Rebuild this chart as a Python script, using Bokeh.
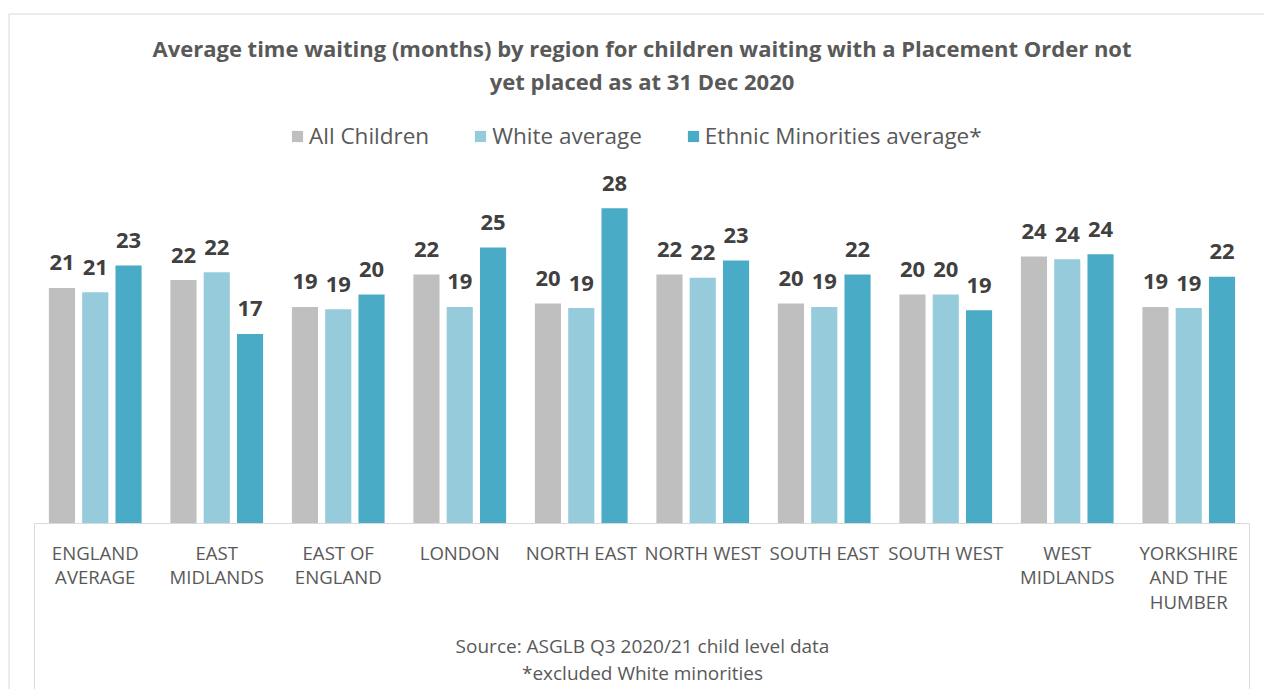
from bokeh.plotting import figure
from bokeh.models import ColumnDataSource, Range1d, Legend, LegendItem, Label
from bokeh.core.properties import value
from bokeh.embed import file_html
from bokeh.resources import INLINE

regions = ["ENGLAND AVERAGE", "EAST MIDLANDS", "EAST OF ENGLAND", "LONDON", "NORTH EAST",
           "NORTH WEST", "SOUTH EAST", "SOUTH WEST", "WEST MIDLANDS", "YORKSHIRE AND THE HUMBER"]
tick_labels = [["ENGLAND", "AVERAGE"], ["EAST", "MIDLANDS"], ["EAST OF", "ENGLAND"], ["LONDON"],
               ["NORTH EAST"], ["NORTH WEST"], ["SOUTH EAST"], ["SOUTH WEST"],
               ["WEST", "MIDLANDS"], ["YORKSHIRE", "AND THE", "HUMBER"]]
all_children = [21.0, 21.7, 19.3, 22.2, 19.6, 22.2, 19.6, 20.4, 23.8, 19.3]
white_avg = [20.6, 22.4, 19.1, 19.3, 19.2, 21.9, 19.3, 20.4, 23.55, 19.2]
ethnic_avg = [23.0, 16.9, 20.4, 24.6, 28.1, 23.45, 22.2, 19.0, 24.0, 22.0]
series_names = ["All Children", "White average", "Ethnic Minorities average*"]
colors = ["#bfbfbf", "#96cbdc", "#4aabc6"]
title_lines = ["Average time waiting (months) by region for children waiting with a Placement Order not",
               "yet placed as at 31 Dec 2020"]
notes = ["Source: ASGLB Q3 2020/21 child level data", "*excluded White minorities"]

FONT = "Open Sans"
TEXT = "#595959"
W, H = 1264, 689
PX_X = 121.5      # pixels per category
PX_Y = 11.22      # pixels per month
X0, Y0 = 34, 523  # canvas position of the category axis origin
n = len(regions)

x_range = Range1d(-X0 / PX_X, (W - X0) / PX_X)
y_range = Range1d(-(H - Y0) / PX_Y, Y0 / PX_Y)

p = figure(width=W, height=H, x_range=x_range, y_range=y_range, output_backend="svg",
           toolbar_location=None, min_border=0)
p.outline_line_color = None
p.xaxis.visible = False
p.yaxis.visible = False
p.xgrid.visible = False
p.ygrid.visible = False

centers = [i + 0.5 for i in range(n)]
off = 0.274
bw = 0.215
renderers = []
for k, (vals, col) in enumerate(zip([all_children, white_avg, ethnic_avg], colors)):
    xs = [c + (k - 1) * off for c in centers]
    src = ColumnDataSource(dict(x=xs, top=vals, lbl=[str(round(v)) for v in vals]))
    r = p.vbar(x="x", top="top", bottom=0, width=bw, source=src, fill_color=col, line_color=None)
    renderers.append(r)
    p.text(x="x", y="top", text="lbl", source=src, text_align="center",
           text_baseline="alphabetic", y_offset=-25, text_font=value(FONT),
           text_font_style="bold", text_font_size="22px", text_color="#404040")

# category axis box and labels
p.segment(x0=[0, 0, n], y0=[0, 0, 0], x1=[n, 0, n], y1=[0, y_range.start, y_range.start],
          line_color="#d9d9d9", line_width=1)
lx, ly, lt, lo = [], [], [], []
for c, lines in zip(centers, tick_labels):
    for j, t in enumerate(lines):
        lx.append(c); ly.append(-28.5 / PX_Y); lt.append(t); lo.append(24.5 * j)
p.text(x=lx, y=ly, text=lt, y_offset=lo, text_align="center", text_baseline="alphabetic",
       text_font=value(FONT), text_font_size="18.6px", text_color=TEXT)

# outer chart border
bx = -(X0 - 8.5) / PX_X
by = (Y0 - 13.5) / PX_Y
p.line(x=[bx, bx, x_range.end], y=[y_range.start, by, by], line_color="#d9d9d9", line_width=1)

legend = Legend(items=[LegendItem(label=s, renderers=[r]) for s, r in zip(series_names, renderers)],
                orientation="horizontal", location=(290, 538), padding=0, margin=0,
                spacing=44, glyph_width=14, glyph_height=14, label_standoff=5,
                label_text_font=FONT, label_text_font_size="22.5px", label_text_color=TEXT,
                border_line_color=None, background_fill_alpha=0)
p.add_layout(legend, "center")

for t, yb in zip(title_lines, [47.5, 80.5]):
    p.add_layout(Label(x=641.5, y=H - yb, x_units="screen", y_units="screen", text=t,
                       text_align="center", text_baseline="alphabetic", text_font=FONT,
                       text_font_style="bold", text_font_size="22px", text_color=TEXT))
for t, yb in zip(notes, [645.5, 672.5]):
    p.add_layout(Label(x=642, y=H - yb, x_units="screen", y_units="screen", text=t,
                       text_align="center", text_baseline="alphabetic", text_font=FONT,
                       text_font_size="19px", text_color=TEXT))

open("out.html", "w").write(file_html(p, INLINE))
